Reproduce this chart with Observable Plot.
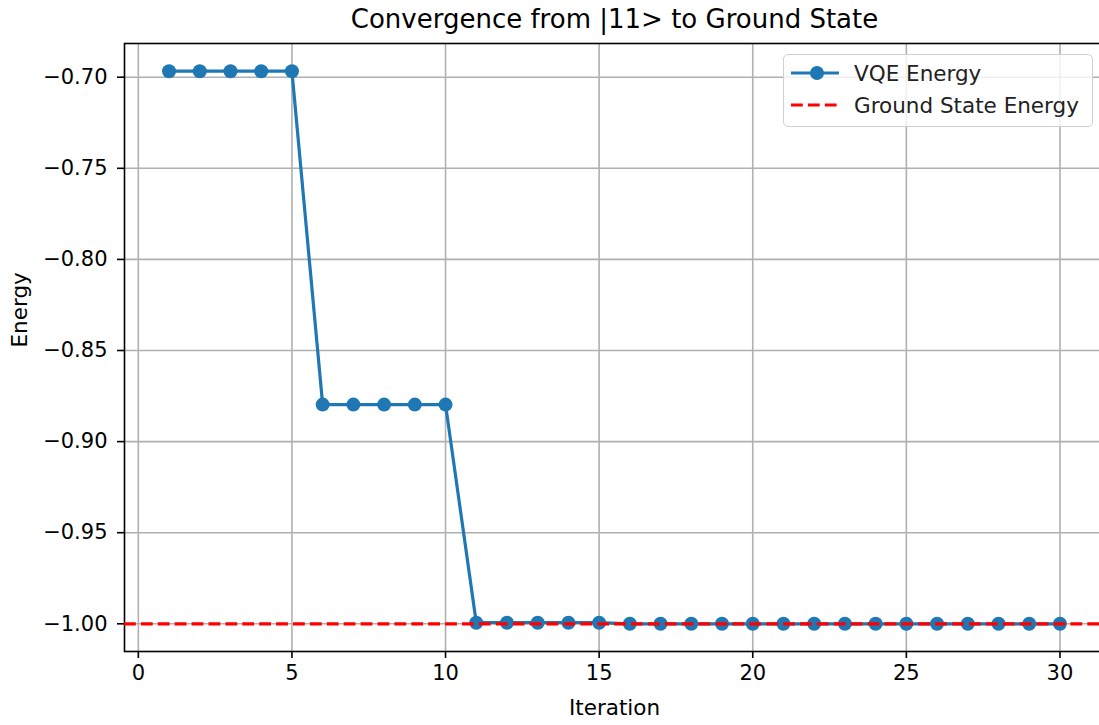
<!DOCTYPE html>
<html>
<head>
<meta charset="utf-8">
<script src="https://cdn.jsdelivr.net/npm/d3@7"></script>
<script src="https://cdn.jsdelivr.net/npm/@observablehq/plot@0.6"></script>
<style>
  html, body { margin: 0; padding: 0; background: #fff; }
  #wrap { position: relative; width: 1099px; height: 725px; font-family: "DejaVu Sans", sans-serif; }
  #legend { position: absolute; left: 783px; top: 54px; width: 310px; height: 73px;
            border: 1.6px solid #d0d0d0; border-radius: 5px; background: rgba(255,255,255,0.8);
            box-sizing: border-box; }
  .lrow { position: absolute; left: 0; height: 26px; display: flex; align-items: center;
          font-size: 21.5px; color: #222; white-space: nowrap; }
  .lrow svg { margin-left: 7px; margin-right: 15px; }
</style>
</head>
<body>
<div id="wrap">
  <div id="chart"></div>
  <div id="legend"></div>
</div>
<script>
const titleText = "Convergence from |11> to Ground State";
const xLabel = "Iteration";
const yLabel = "Energy";
const seriesName = "VQE Energy";
const refName = "Ground State Energy";

const iterations = [1,2,3,4,5,6,7,8,9,10,11,12,13,14,15,16,17,18,19,20,21,22,23,24,25,26,27,28,29,30];
const energy = [
  -0.6967, -0.6967, -0.6967, -0.6967, -0.6967,
  -0.8797, -0.8797, -0.8797, -0.8797, -0.8797,
  -0.9994, -0.9994, -0.9994, -0.9994, -0.9994,
  -1.0, -1.0, -1.0, -1.0, -1.0, -1.0, -1.0, -1.0, -1.0, -1.0, -1.0, -1.0, -1.0, -1.0, -1.0
];
const groundEnergy = [-1.0];
const xTicks = [0, 5, 10, 15, 20, 25, 30];
const yTicks = [-1.00, -0.95, -0.90, -0.85, -0.80, -0.75, -0.70];

const data = iterations.map((it, i) => ({iteration: it, energy: energy[i]}));

const blue = "#1f77b4";
const grid = "#b0b0b0";

const chart = Plot.plot({
  width: 1099,
  height: 725,
  marginLeft: 124,
  marginRight: -5,
  marginTop: 43,
  marginBottom: 74,
  style: {fontFamily: "DejaVu Sans, sans-serif", fontSize: "21px", color: "#000", background: "#fff"},
  x: {domain: [-0.45, 31.45]},
  y: {domain: [-1.0152, -0.6815]},
  marks: [
    Plot.gridX(xTicks, {stroke: grid, strokeOpacity: 1, strokeWidth: 1.6}),
    Plot.gridY(yTicks, {stroke: grid, strokeOpacity: 1, strokeWidth: 1.6}),
    Plot.frame({stroke: "#000", strokeWidth: 1.6}),
    Plot.axisX(xTicks, {tickSize: 7, tickPadding: 7, fontSize: 21, strokeWidth: 1.6, label: null, tickFormat: d3.format("d")}),
    Plot.axisY(yTicks, {tickSize: 7, tickPadding: 10, fontSize: 21, strokeWidth: 1.6, label: null, tickFormat: d3.format(".2f")}),
    Plot.line(data, {x: "iteration", y: "energy", stroke: blue, strokeWidth: 3.2}),
    Plot.dot(data, {x: "iteration", y: "energy", fill: blue, r: 7, stroke: null}),
    Plot.ruleY(groundEnergy, {stroke: "red", strokeWidth: 3.2, strokeDasharray: "11.8,5.1"}),
    Plot.text([titleText], {frameAnchor: "top", lineAnchor: "middle", dy: -24, fontSize: 26, fill: "#000"}),
    Plot.text([xLabel], {x: 15.5, frameAnchor: "bottom", lineAnchor: "middle", dy: 57, fontSize: 21.5, fill: "#000"}),
    Plot.text([yLabel], {frameAnchor: "left", dx: -104, rotate: -90, fontSize: 21.5, fill: "#000"})
  ]
});
document.getElementById("chart").appendChild(chart);

const legend = document.getElementById("legend");
legend.innerHTML = `
  <div class="lrow" style="top:5px">
    <svg width="48" height="16"><line x1="0" y1="8" x2="48" y2="8" stroke="${blue}" stroke-width="3.2"/><circle cx="26" cy="8" r="7" fill="${blue}"/></svg>
    <span>${seriesName}</span>
  </div>
  <div class="lrow" style="top:37px">
    <svg width="48" height="16"><line x1="0" y1="8" x2="48" y2="8" stroke="red" stroke-width="3.2" stroke-dasharray="11.8,5.1"/></svg>
    <span>${refName}</span>
  </div>`;
</script>
</body>
</html>
